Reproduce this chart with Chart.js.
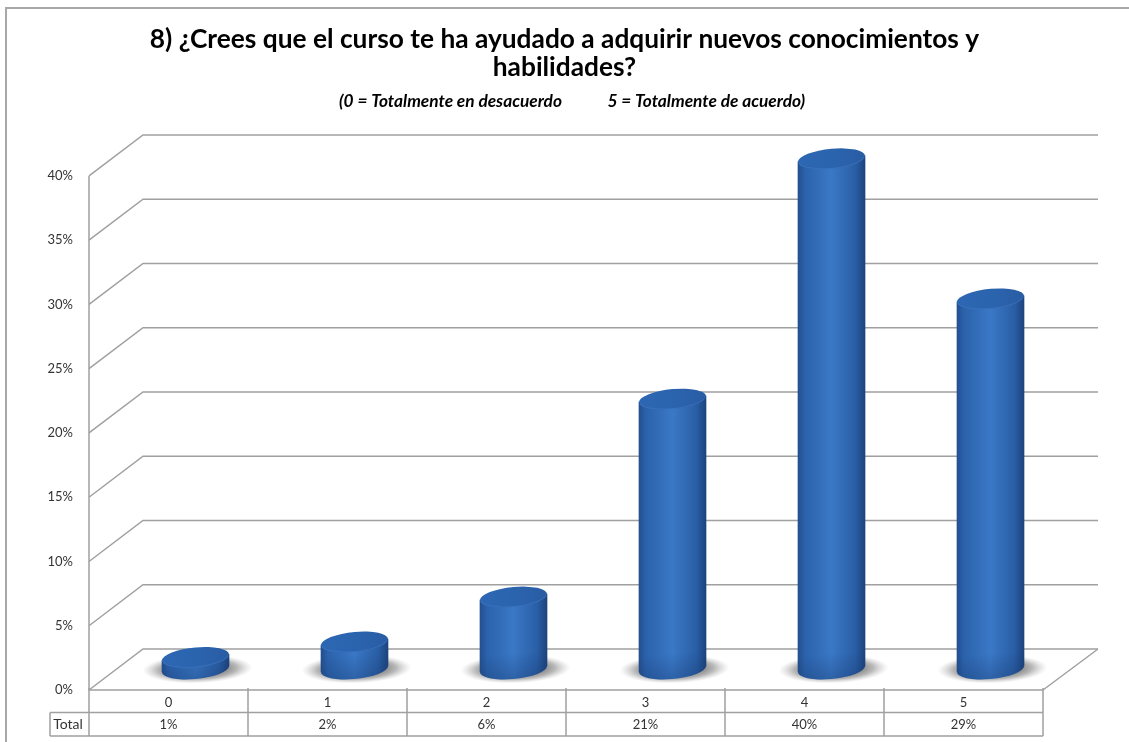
<!DOCTYPE html>
<html><head><meta charset="utf-8">
<style>html,body{margin:0;padding:0;background:#fff}#w{width:1129px;height:742px}</style>
<script src="https://cdn.jsdelivr.net/npm/chart.js@4"></script>
</head><body><div id="w"><canvas id="c"></canvas></div>
<script>
const categories = ['0','1','2','3','4','5'];
const values = [0.9, 2.1, 5.6, 21.0, 39.7, 28.8];
const yTickStep = 5;
const yMax = 40;
const rowLabel = 'Total';
const titleLines = ['8) ¿Crees que el curso te ha ayudado a adquirir nuevos conocimientos y','habilidades?'];
const subtitleText = '    (0 = Totalmente en desacuerdo            5 = Totalmente de acuerdo)';

const DX = 54, DY = -41, BX = 27, BY = -21, SHEAR = -0.09, RX = 33.5, RY = 10;
const LINE = '#a0a0a0';
const FONT = 'Lato';

function bodyGradient(c, cx){
  const g = c.createLinearGradient(cx-RX,0,cx+RX,0);
  g.addColorStop(0,'#234f8f');
  g.addColorStop(0.1,'#2b62ab');
  g.addColorStop(0.5,'#3a78c6');
  g.addColorStop(0.85,'#2a5fa6');
  g.addColorStop(1,'#1c447e');
  return g;
}
const frame3d = {
  id:'frame3d',
  beforeDatasetsDraw(chart){
    const {ctx, scales:{x,y}} = chart;
    const L = x.left, R = x.right, B = y.getPixelForValue(0);
    ctx.save();
    ctx.strokeStyle = LINE; ctx.lineWidth = 1.5;
    y.ticks.forEach(t=>{
      const py = y.getPixelForValue(t.value);
      ctx.beginPath();
      ctx.moveTo(L,py); ctx.lineTo(L+DX,py+DY); ctx.lineTo(R+DX+1,py+DY);
      ctx.stroke();
    });
    ctx.beginPath();
    ctx.moveTo(L,y.top); ctx.lineTo(L,B);
    ctx.moveTo(R,B); ctx.lineTo(R+DX+1,B+DY);
    ctx.stroke();
    const step = x.getPixelForTick(1)-x.getPixelForTick(0);
    const r1 = B+22.5, r2 = B+46;
    ctx.beginPath();
    ctx.moveTo(L,B); ctx.lineTo(R,B);
    ctx.moveTo(L-39,r1); ctx.lineTo(R,r1);
    ctx.moveTo(L-39,r2); ctx.lineTo(R,r2);
    ctx.moveTo(L-39,r1); ctx.lineTo(L-39,r2);
    for(let i=0;i<=categories.length;i++){
      const px = x.getPixelForTick(0)-step/2+i*step;
      ctx.moveTo(px,B-2); ctx.lineTo(px,r2);
    }
    ctx.stroke();
    ctx.fillStyle='#333'; ctx.font='14px '+FONT; ctx.textAlign='center'; ctx.textBaseline='middle';
    ctx.fillText(rowLabel,L-21,(r1+r2)/2);
    ctx.restore();
  }
};
const cylinders = {
  id:'cylinders',
  beforeDatasetDraw(chart,args){
    const {ctx, chartArea} = chart;
    const meta = args.meta;
    meta.data.forEach(el=>{
      const cx = el.x+BX+2, cy = el.base+BY;
      ctx.save();
      ctx.translate(cx,cy); ctx.rotate(-0.03); ctx.scale(1,0.26);
      const g = ctx.createRadialGradient(0,0,24,0,0,55);
      g.addColorStop(0,'rgba(105,105,105,0.9)');
      g.addColorStop(0.5,'rgba(135,135,135,0.6)');
      g.addColorStop(1,'rgba(180,180,180,0)');
      ctx.fillStyle=g;
      ctx.beginPath(); ctx.arc(0,0,55,0,Math.PI*2); ctx.fill();
      ctx.restore();
    });
    meta.data.forEach(el=>{
      ctx.save();
      ctx.translate(el.x+BX,BY);
      ctx.transform(1,SHEAR,0,1,0,0);
      ctx.translate(-el.x,0);
      ctx.fillStyle = bodyGradient(ctx,el.x);
      ctx.beginPath(); ctx.ellipse(el.x,el.base,RX,RY,0,0,Math.PI*2); ctx.fill();
      el.draw(ctx,chartArea);
      ctx.save();
      ctx.beginPath();
      ctx.rect(el.x-RX,el.base-16,RX*2,16);
      ctx.ellipse(el.x,el.base,RX,RY,0,0,Math.PI*2);
      ctx.clip();
      const f = ctx.createLinearGradient(0,el.base-16,0,el.base+RY);
      f.addColorStop(0,'rgba(20,50,100,0)');
      f.addColorStop(1,'rgba(20,50,100,0.3)');
      ctx.fillStyle=f; ctx.fillRect(el.x-RX,el.base-16,RX*2,RY+16);
      ctx.restore();
      const t = ctx.createLinearGradient(el.x-RX,0,el.x+RX,0);
      t.addColorStop(0,'#2d66b2'); t.addColorStop(0.5,'#2b64ae'); t.addColorStop(1,'#295da4');
      ctx.fillStyle=t;
      ctx.beginPath(); ctx.ellipse(el.x,el.y,RX,RY,0,0,Math.PI*2); ctx.fill();
      ctx.strokeStyle='rgba(70,125,200,0.5)'; ctx.lineWidth=1;
      ctx.beginPath(); ctx.ellipse(el.x,el.y,RX-0.5,RY-0.5,0,0.15,Math.PI-0.15); ctx.stroke();
      ctx.restore();
    });
    return false;
  }
};
const frameBorder = {
  id:'frameBorder',
  beforeDraw(chart){
    const {ctx}=chart;
    ctx.save();
    ctx.strokeStyle='#a8a8a8'; ctx.lineWidth=2;
    ctx.beginPath();
    ctx.moveTo(6,742); ctx.lineTo(6,8); ctx.lineTo(1129,8);
    ctx.stroke();
    ctx.restore();
  }
};

new Chart(document.getElementById('c'),{
  type:'bar',
  data:{labels:categories,datasets:[{
    data:values,
    barThickness:RX*2,
    borderWidth:0,
    backgroundColor:(c)=>{
      const x=c.chart.scales.x;
      const px = (x && Number.isInteger(c.dataIndex)) ? x.getPixelForValue(c.dataIndex) : NaN;
      if(!Number.isFinite(px)) return '#2f6bb8';
      return bodyGradient(c.chart.ctx,px);
    }
  }]},
  plugins:[frameBorder,frame3d,cylinders],
  options:{
    responsive:true,maintainAspectRatio:false,animation:false,
    layout:{padding:{left:0,right:0,top:0,bottom:6}},
    plugins:{
      legend:{display:false},tooltip:{enabled:false},
      title:{display:true,text:titleLines,color:'#000',font:{family:FONT,size:26.3,weight:'bold',lineHeight:1.068},padding:{top:25,bottom:0}},
      subtitle:{display:true,text:subtitleText,color:'#000',font:{family:FONT,size:17.3,weight:'bold',style:'italic',lineHeight:1.2},padding:{top:9.4,bottom:64.6}}
    },
    scales:{
      x:{
        grid:{display:false,drawTicks:false},border:{display:false},
        afterFit(s){s.height=46;},
        ticks:{
          color:'#333',maxRotation:0,autoSkip:false,padding:2,
          font:{family:FONT,size:13,lineHeight:1.7},
          callback(v,i){return [categories[i],Math.round(values[i])+'%'];}
        }
      },
      y:{
        min:0,max:yMax,
        grid:{display:false,drawTicks:false},border:{display:false},
        afterFit(s){s.width=89;},
        ticks:{
          stepSize:yTickStep,color:'#333',padding:16,
          font:{family:FONT,size:13},
          callback(v){return v+'%';}
        }
      },
      rightGutter:{
        position:'right',display:true,
        grid:{display:false,drawTicks:false},border:{display:false},
        ticks:{display:false},
        afterFit(s){s.width=86;}
      }
    }
  }
});
</script></body></html>
